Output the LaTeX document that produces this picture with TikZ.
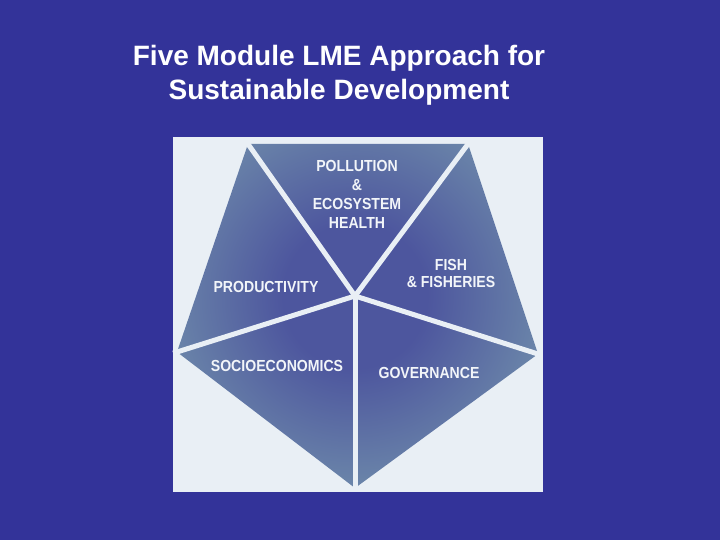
\documentclass[tikz,border=0pt]{standalone}
\usepackage{fontspec}
\setmainfont{Liberation Sans}
\newfontfamily\lblfont{Liberation Sans}[FakeStretch=0.88]
\usepackage{xcolor}
\usetikzlibrary{positioning}

\definecolor{slidebg}{HTML}{333399}
\definecolor{panelbg}{HTML}{E9EFF5}
\definecolor{segdark}{HTML}{4D569E}
\definecolor{seglight}{HTML}{6D89AA}
\definecolor{lblwhite}{HTML}{F2F5F9}

\pgfdeclareradialshading{segshade}{\pgfpoint{0bp}{0bp}}{color(0bp)=(segdark); color(9bp)=(segdark); color(25bp)=(seglight); color(50bp)=(seglight)}

\begin{document}
\begin{tikzpicture}[x=1pt,y=-1pt,
  lbl/.style={text=lblwhite, font=\lblfont\bfseries\fontsize{16}{17}\selectfont, align=center, inner sep=0pt},
  gap/.style={draw=panelbg, line width=5pt, shorten <=-2pt, shorten >=-4pt}]

	% slide and picture panel
	\fill[slidebg] (0,0) rectangle (720,540);
	\useasboundingbox (0,0) rectangle (720,540);
	\fill[panelbg] (173,137) rectangle (543,492);

	% title
	\node[text=white, font=\bfseries\fontsize{28}{34}\selectfont, align=center] (title) at (339,75)
		{Five Module LME Approach for\\Sustainable Development};

	% pentagon corners
	\coordinate (ctr) at (355,296);
	\coordinate (vtl) at (248,144);
	\coordinate (vtr) at (468,144);
	\coordinate (vr) at (538,354);
	\coordinate (vb) at (355,488);
	\coordinate (vl) at (177,352);

	% five shaded modules
	\foreach \a/\b in {vtl/vtr, vtr/vr, vr/vb, vb/vl, vl/vtl} {
		\begin{scope}
			\clip (ctr) -- (\a) -- (\b) -- cycle;
			\shade[shading=segshade] (ctr) circle (200);
		\end{scope}
	}

	% white gaps between modules
	\foreach \v in {vtl,vtr,vr,vb,vl} { \draw[gap] (ctr) -- (\v); }

	% module names
	\node[lbl, font=\lblfont\bfseries\fontsize{16}{19}\selectfont] (pollution) at (357,194) {POLLUTION\\\&\\ECOSYSTEM\\HEALTH};
	\node[lbl] (fish) at (451,273) {FISH\\\& FISHERIES};
	\node[lbl] (productivity) at (266,287) {PRODUCTIVITY};
	\node[lbl] (socio) at (277,366) {SOCIOECONOMICS};
	\node[lbl] (governance) at (429,373) {GOVERNANCE};
\end{tikzpicture}
\end{document}
